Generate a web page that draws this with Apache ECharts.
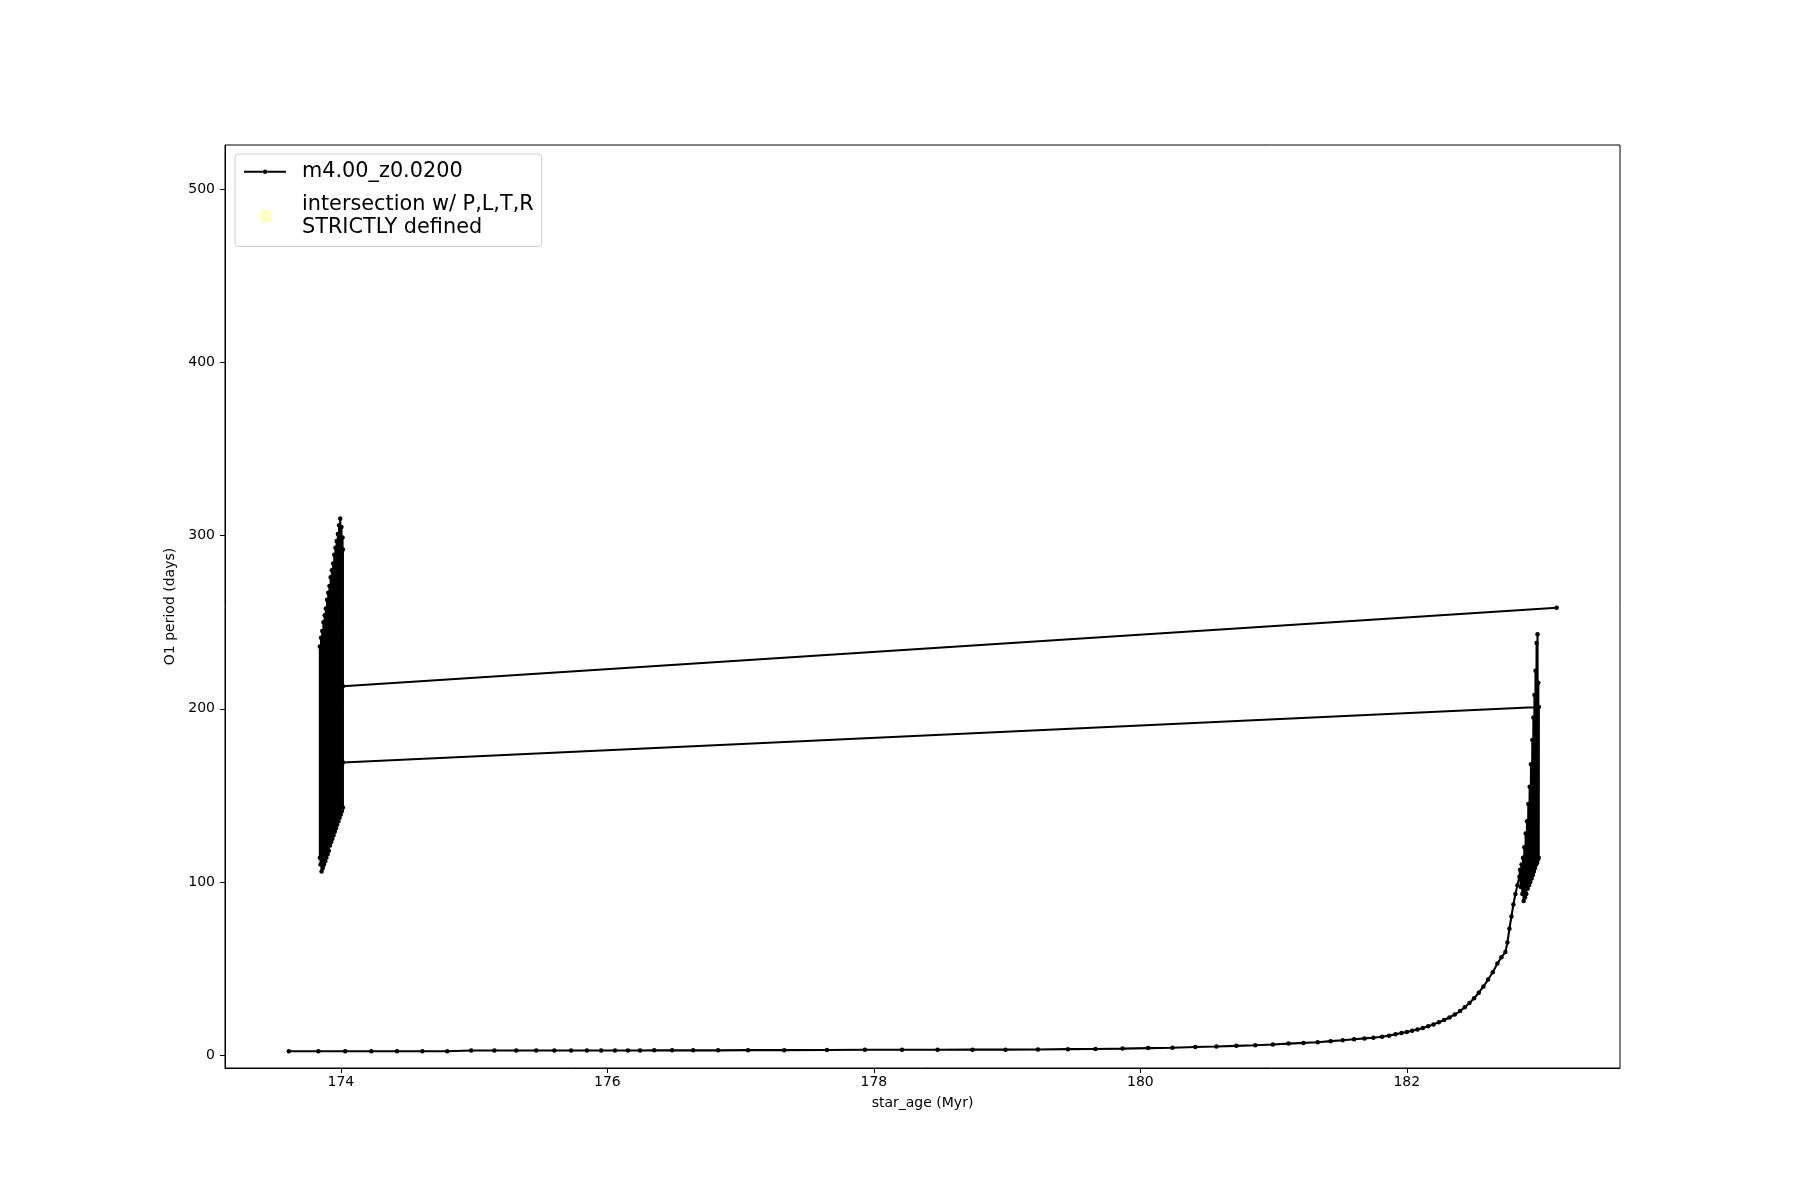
<!DOCTYPE html>
<html><head><meta charset="utf-8">
<script src="https://cdn.jsdelivr.net/npm/echarts@6/dist/echarts.min.js"></script>
<style>html,body{margin:0;padding:0;background:#fff}#c{width:1800px;height:1200px}</style>
</head><body><div id="c"></div>
<script>
// ---- data ----
const mainAge = [173.609,173.831,174.032,174.228,174.421,174.611,174.798,174.978,175.152,175.316,175.466,175.602,175.728,175.846,175.953,176.057,176.153,176.245,176.352,176.486,176.644,176.831,177.056,177.327,177.648,177.932,178.211,178.478,178.741,178.988,179.231,179.456,179.663,179.866,180.059,180.241,180.413,180.571,180.721,180.863,180.994,181.112,181.224,181.331,181.428,181.519,181.604,181.682,181.749,181.814,181.867,181.915,181.960,182.000,182.040,182.080,182.120,182.160,182.200,182.240,182.280,182.320,182.360,182.400,182.435,182.470,182.505,182.540,182.575,182.610,182.645,182.680,182.710,182.740,182.755,182.770,182.785,182.800,182.815,182.830,182.845];
const mainPeriod = [2.2,2.2,2.2,2.2,2.2,2.2,2.2,2.6,2.6,2.6,2.6,2.6,2.6,2.6,2.6,2.6,2.6,2.6,2.7,2.7,2.7,2.7,2.8,2.8,2.9,3.0,3.0,3.0,3.1,3.1,3.2,3.4,3.5,3.7,4.0,4.2,4.6,4.9,5.3,5.6,6.1,6.6,7.0,7.4,8.0,8.5,9.1,9.6,10.0,10.6,11.2,12.0,12.7,13.3,14.0,14.8,15.6,16.6,17.7,18.9,20.2,21.7,23.4,25.4,27.6,30.0,32.8,36.0,39.6,43.6,47.8,52.8,56.5,59.5,65.0,73.0,80.0,87.0,93.0,98.0,103.0];

const rightAge = [182.850,182.856,182.861,182.867,182.872,182.877,182.882,182.887,182.892,182.897,182.902,182.907,182.912,182.917,182.922,182.927,182.932,182.937,182.942,182.946,182.950,182.954,182.958,182.962,182.966,182.970,182.974,182.978,182.981,182.984,182.987,182.990,182.991];
const rightPeriod = [107,97,110,93,114,89,120,91,128,93,135,96,145,98,155,100,168,102,182,104,195,106,208,108,222,110,238,111,243,113,215,114,201];

const leftAge = [174.015,173.842,173.842,173.847,173.851,173.855,173.860,173.864,173.869,173.873,173.878,173.882,173.887,173.891,173.896,173.900,173.905,173.909,173.914,173.918,173.923,173.927,173.932,173.936,173.941,173.945,173.950,173.954,173.959,173.963,173.968,173.972,173.977,173.981,173.986,173.990,173.995,173.999,174.004,174.008,174.012,174.015,174.015];
const leftPeriod = [169,114,236,110,241,106,245,108,250,110,254,112,258,114,263,116,267,118,271,121,276,123,280,125,284,127,289,129,293,131,297,133,301,135,306,137,310,139,305,141,299,143,292];

const finalAge = [174.015,183.125];
const finalPeriod = [213,258.4];

const xTicks = [174,176,178,180,182];
const yTicks = [0,100,200,300,400,500];

const seriesName = 'm4.00_z0.0200';
const intersectName = 'intersection w/ P,L,T,R\nSTRICTLY defined';

// ---- build ----
function pairs(a, p){ return a.map((v,i)=>[v,p[i]]); }
const track = [].concat(pairs(mainAge,mainPeriod), pairs(rightAge,rightPeriod), pairs(leftAge,leftPeriod), pairs(finalAge,finalPeriod));

// legend handle: line with a small dot (bounding box kept at 42x14 by two tiny corner specks)
const lineHandle = 'path://M0,0L0.01,0L0,0.01Z M42,14L41.99,14L42,13.99Z ' +
  'M0,6L18.8,6L18.8,8L0,8Z M23.2,6L42,6L42,8L23.2,8Z ' +
  'M18.8,7A2.2,2.2,0,1,0,23.2,7A2.2,2.2,0,1,0,18.8,7Z';

const FONT = 'DejaVu Sans';
const chart = echarts.init(document.getElementById('c'), null, {renderer:'canvas'});
chart.setOption({
  animation:false,
  backgroundColor:'#fff',
  textStyle:{fontFamily:FONT},
  grid:{left:225,right:180,top:145,bottom:132,show:true,borderColor:'#000',borderWidth:1,backgroundColor:'transparent'},
  legend:{
    orient:'vertical', left:235, top:154,
    padding:[6,8,7,9],
    borderColor:'#cccccc', borderWidth:1, borderRadius:4,
    backgroundColor:'rgba(255,255,255,0.8)',
    itemGap:9, itemWidth:42, itemHeight:14,
    symbolKeepAspect:false,
    textStyle:{fontSize:20.8,fontFamily:FONT,color:'#000',lineHeight:23.5,padding:[0,0,0,11]},
    data:[{name:seriesName,icon:lineHandle},{name:intersectName,icon:'circle'}]
  },
  xAxis:{
    type:'value', min:173.13, max:183.6,
    axisLine:{show:true,onZero:false,lineStyle:{color:'#000',width:1}},
    axisTick:{show:true,inside:false,length:5,customValues:xTicks,lineStyle:{color:'#000',width:1}},
    axisLabel:{customValues:xTicks,color:'#000',fontSize:14,fontFamily:FONT,margin:7},
    splitLine:{show:false},
    name:'star_age (Myr)', nameLocation:'middle', nameGap:28,
    nameTextStyle:{fontSize:14,color:'#000',fontFamily:FONT}
  },
  yAxis:{
    type:'value', min:-7.5, max:525.7,
    axisLine:{show:true,onZero:false,lineStyle:{color:'#000',width:1}},
    axisTick:{show:true,inside:false,length:5,customValues:yTicks,lineStyle:{color:'#000',width:1}},
    axisLabel:{customValues:yTicks,color:'#000',fontSize:14,fontFamily:FONT,margin:10},
    splitLine:{show:false},
    name:'O1 period (days)', nameLocation:'middle', nameGap:38,
    nameTextStyle:{fontSize:14,color:'#000',fontFamily:FONT}
  },
  series:[
    {
      name:seriesName, type:'line', data:track,
      showSymbol:true, showAllSymbol:true, symbol:'circle', symbolSize:4.5,
      lineStyle:{color:'#000',width:2.1}, itemStyle:{color:'#000'},
      emphasis:{disabled:true}, z:3
    },
    {
      name:intersectName, type:'scatter', data:[],
      symbolSize:14, itemStyle:{color:'#ffffb8'}
    }
  ]
});
</script></body></html>
